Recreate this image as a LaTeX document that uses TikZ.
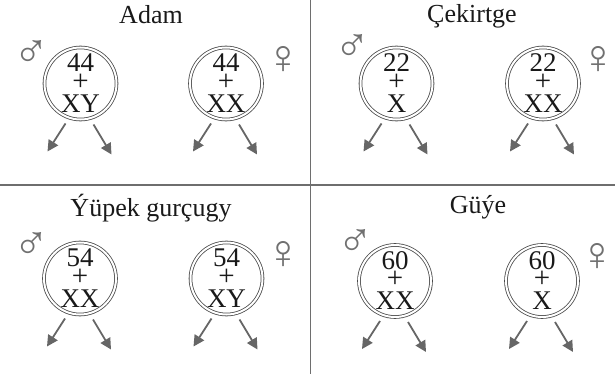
\documentclass[tikz,border=0pt]{standalone}
\usepackage{fontspec}
\setmainfont{Liberation Serif}
\usetikzlibrary{arrows.meta}
\definecolor{linegray}{HTML}{6E6E6E}
\definecolor{arrgray}{HTML}{666666}
\definecolor{ringgray}{HTML}{4A4A4A}
\definecolor{symgray}{HTML}{707070}
\newcommand\cellring[5]{%
  \node[ring] (#1) at (#2,#3) {};
  \node[txt] (#1n) at (#2,#3-20.5) {#4};
  \node[txt, font=\fontsize{29}{29}\selectfont] (#1p) at (#2,#3-1.5) {+};
  \node[txt] (#1c) at (#2,#3+20) {#5};
  \coordinate (#1ls) at (#2-15,#3+40);
  \coordinate (#1lt) at (#2-33,#3+68);
  \coordinate (#1rs) at (#2+13,#3+41);
  \coordinate (#1rt) at (#2+31,#3+71);
  \draw[arr] (#1ls) -- (#1lt);
  \draw[arr] (#1rs) -- (#1rt);
}
\begin{document}
\begin{tikzpicture}[x=1pt,y=-1pt,
  ring/.style={circle, draw=ringgray, double=white, double distance=2pt, line width=0.8pt, minimum size=72pt, inner sep=0pt},
  txt/.style={inner sep=0pt, font=\fontsize{27}{27}\selectfont, text=black!90},
  title/.style={inner sep=0pt, anchor=base, font=\fontsize{26}{26}\selectfont, text=black!90},
  sym/.style={inner sep=0pt, font=\fontsize{48}{48}\selectfont, text=symgray},
  arr/.style={draw=arrgray, line width=1.8pt, -{Triangle[length=11pt,width=11pt]}},
  divider/.style={draw=linegray, line width=1.6pt}]
\useasboundingbox (0,0) rectangle (615,374);
% dividers
\coordinate (vt) at (310.5,0);
\coordinate (vb) at (310.5,374);
\coordinate (hl) at (0,185);
\coordinate (hr) at (615,185);
\draw[divider] (vt) -- (vb);
\draw[divider] (hl) -- (hr);
% titles
\node[title] (t1) at (151,24) {Adam};
\node[title] (t2) at (472,23) {Çekirtge};
\node[title] (t3) at (151,216) {Ýüpek gurçugy};
\node[title] (t4) at (478,213) {Güýe};
% cells
\cellring{a}{80.5}{83.5}{44}{XY}
\cellring{b}{226}{83.5}{44}{XX}
\cellring{c}{396.5}{83.5}{22}{X}
\cellring{d}{543}{83.5}{22}{XX}
\cellring{e}{80}{278.5}{54}{XX}
\cellring{f}{226.5}{278.5}{54}{XY}
\cellring{g}{395}{281}{60}{XX}
\cellring{h}{542}{281}{60}{X}
% gender symbols
\node[sym] (ma) at (31.5,53.5) {♂};
\node[sym] (fb) at (283.5,60) {♀};
\node[sym] (mc) at (352,48) {♂};
\node[sym] (fd) at (598,60) {♀};
\node[sym] (me) at (31,246) {♂};
\node[sym] (ff) at (283,255) {♀};
\node[sym] (mg) at (355,243) {♂};
\node[sym] (fh) at (597,257) {♀};
\end{tikzpicture}
\end{document}
